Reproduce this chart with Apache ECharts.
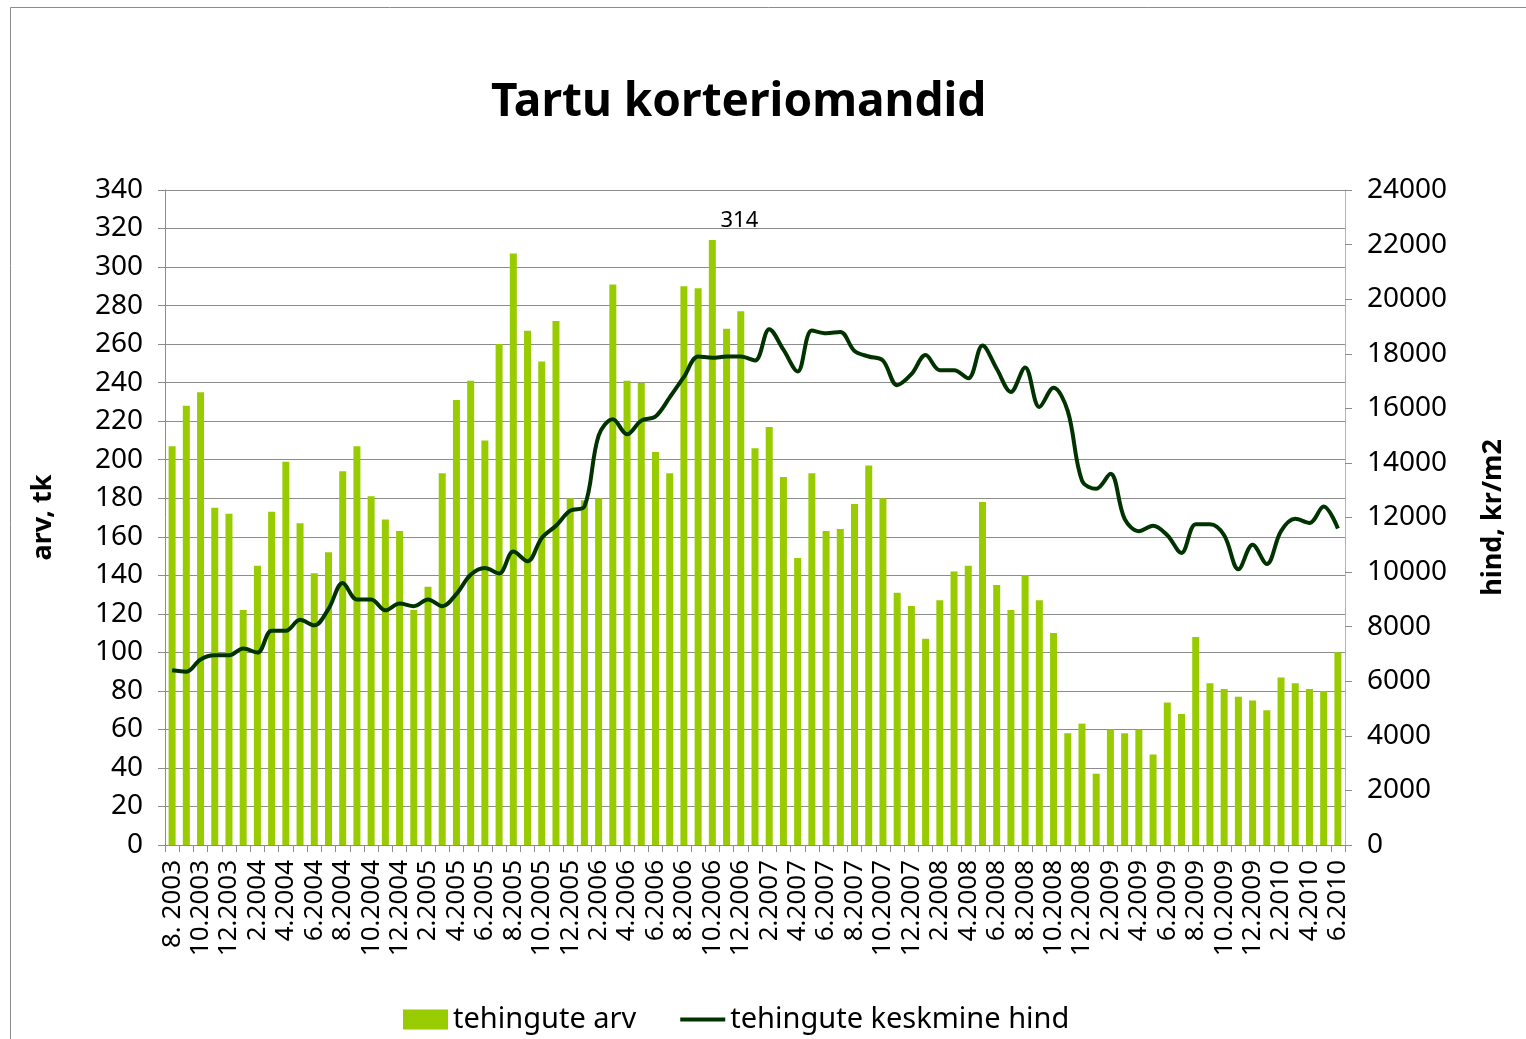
<!DOCTYPE html>
<html>
<head>
<meta charset="utf-8">
<title>Tartu korteriomandid</title>
<script src="https://cdn.jsdelivr.net/npm/echarts@6/dist/echarts.min.js"></script>
<style>
  html, body { margin: 0; padding: 0; background: #fff; }
  #main { width: 1526px; height: 1039px; }
</style>
</head>
<body>
<div id="main"></div>
<script>
// kuud 8.2003 ... 6.2010
const months = [
  '8. 2003', '9.2003', '10.2003', '11.2003', '12.2003',
  '1.2004', '2.2004', '3.2004', '4.2004', '5.2004', '6.2004', '7.2004', '8.2004', '9.2004', '10.2004', '11.2004', '12.2004',
  '1.2005', '2.2005', '3.2005', '4.2005', '5.2005', '6.2005', '7.2005', '8.2005', '9.2005', '10.2005', '11.2005', '12.2005',
  '1.2006', '2.2006', '3.2006', '4.2006', '5.2006', '6.2006', '7.2006', '8.2006', '9.2006', '10.2006', '11.2006', '12.2006',
  '1.2007', '2.2007', '3.2007', '4.2007', '5.2007', '6.2007', '7.2007', '8.2007', '9.2007', '10.2007', '11.2007', '12.2007',
  '1.2008', '2.2008', '3.2008', '4.2008', '5.2008', '6.2008', '7.2008', '8.2008', '9.2008', '10.2008', '11.2008', '12.2008',
  '1.2009', '2.2009', '3.2009', '4.2009', '5.2009', '6.2009', '7.2009', '8.2009', '9.2009', '10.2009', '11.2009', '12.2009',
  '1.2010', '2.2010', '3.2010', '4.2010', '5.2010', '6.2010'
];

// tehingute arv
const dealCount = [
  207, 228, 235, 175, 172,
  122, 145, 173, 199, 167, 141, 152, 194, 207, 181, 169, 163,
  122, 134, 193, 231, 241, 210, 260, 307, 267, 251, 272, 180,
  179, 180, 291, 241, 240, 204, 193, 290, 289, 314, 268, 277,
  206, 217, 191, 149, 193, 163, 164, 177, 197, 180, 131, 124,
  107, 127, 142, 145, 178, 135, 122, 140, 127, 110, 58, 63,
  37, 60, 58, 60, 47, 74, 68, 108, 84, 81, 77, 75,
  70, 87, 84, 81, 80, 100
];

// tehingute keskmine hind, kr/m2
const avgPrice = [
  6400, 6350, 6800, 6950, 6950,
  7200, 7050, 7850, 7850, 8250, 8050, 8650, 9600, 9000, 9000, 8600, 8850,
  8750, 9000, 8750, 9200, 9900, 10150, 9950, 10750, 10400, 11250, 11700, 12250,
  12400, 15000, 15600, 15050, 15550, 15700, 16400, 17150, 17900, 17850, 17900, 17900,
  17750, 18900, 18150, 17350, 18850, 18750, 18800, 18100, 17900, 17750, 16850, 17250,
  17950, 17400, 17400, 17100, 18300, 17450, 16600, 17500, 16050, 16750, 15900, 13350,
  13050, 13600, 11950, 11500, 11700, 11350, 10700, 11750, 11750, 11350, 10100, 11000,
  10300, 11500, 11950, 11800, 12400, 11600
];

const labelIndex = 38; // 10.2006, näidatud väärtus 314

const font = 'Noto Sans';
const chart = echarts.init(document.getElementById('main'));

chart.setOption({
  animation: false,
  textStyle: { fontFamily: font, color: '#000' },
  title: {
    text: 'Tartu korteriomandid',
    left: 486,
    top: 75,
    textStyle: { fontFamily: font, fontSize: 46, fontWeight: 'bold', color: '#000' }
  },
  graphic: [{
    type: 'rect',
    shape: { x: 10.5, y: 7.5, width: 1540, height: 1060 },
    style: { fill: 'none', stroke: '#8c8c8c', lineWidth: 1 },
    silent: true
  }],
  legend: {
    bottom: 0,
    left: 398,
    itemWidth: 45,
    itemHeight: 20,
    itemGap: 42,
    textStyle: { fontFamily: font, fontSize: 29, color: '#000' },
    data: [
      { name: 'tehingute arv', icon: 'rect' },
      { name: 'tehingute keskmine hind', itemStyle: { opacity: 0 }, lineStyle: { width: 4 } }
    ]
  },
  grid: { left: 165, right: 181, top: 190, bottom: 194 },
  xAxis: {
    type: 'category',
    data: months,
    boundaryGap: true,
    axisLine: { lineStyle: { color: '#8c8c8c' } },
    axisTick: { show: true, interval: 0, length: 7, lineStyle: { color: '#8c8c8c' } },
    axisLabel: { interval: 1, rotate: 90, fontSize: 26, margin: 15, color: '#000', fontFamily: font }
  },
  yAxis: [{
    type: 'value',
    min: 0, max: 340, interval: 20,
    name: 'arv, tk',
    nameLocation: 'middle',
    nameRotate: 90,
    nameGap: 108,
    nameTextStyle: { fontSize: 27, fontWeight: 'bold', color: '#000', fontFamily: font },
    axisLine: { show: true, lineStyle: { color: '#8c8c8c' } },
    axisTick: { show: true, length: 7, lineStyle: { color: '#8c8c8c' } },
    axisLabel: { fontSize: 28, margin: 22, color: '#000', fontFamily: font },
    splitLine: { show: true, lineStyle: { color: '#8c8c8c', width: 1 } }
  }, {
    type: 'value',
    min: 0, max: 24000, interval: 2000,
    name: 'hind, kr/m2',
    nameLocation: 'middle',
    nameRotate: 90,
    nameGap: 135,
    nameTextStyle: { fontSize: 27, fontWeight: 'bold', color: '#000', fontFamily: font },
    axisLine: { show: true, lineStyle: { color: '#b4b4b4' } },
    axisTick: { show: true, length: 7, lineStyle: { color: '#8c8c8c' } },
    axisLabel: { fontSize: 28, margin: 22, color: '#000', fontFamily: font, formatter: v => String(v) },
    splitLine: { show: false }
  }],
  series: [{
    name: 'tehingute arv',
    type: 'bar',
    yAxisIndex: 0,
    barWidth: 7,
    itemStyle: { color: '#99cc00' },
    data: dealCount.map((v, i) => i === labelIndex
      ? { value: v, label: { show: true, position: 'top', distance: 8, offset: [27, 0], fontSize: 22, color: '#000', fontFamily: font } }
      : v)
  }, {
    name: 'tehingute keskmine hind',
    type: 'line',
    yAxisIndex: 1,
    smooth: 0.35,
    symbol: 'none',
    lineStyle: { color: '#003300', width: 4 },
    itemStyle: { color: '#003300' },
    data: avgPrice
  }]
});
</script>
</body>
</html>
